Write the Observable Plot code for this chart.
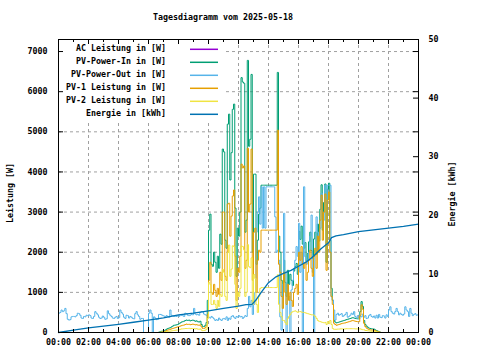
<!DOCTYPE html>
<html><head><meta charset="utf-8">
<script src="https://cdn.jsdelivr.net/npm/d3@7"></script>
<script src="https://cdn.jsdelivr.net/npm/@observablehq/plot@0.6"></script>
<style>body{margin:0;background:#fff}svg{display:block}</style>
</head><body><div id="chart"></div>
<script>
// ---------- data ----------
const chartTitle = "Tagesdiagramm vom 2025-05-18";
const yTitle = "Leistung [W]";
const y2Title = "Energie [kWh]";
const seriesNames = ["AC Leistung in [W]", "PV-Power-In in [W]", "PV-Power-Out in [W]", "PV-1 Leistung in [W]", "PV-2 Leistung in [W]", "Energie in [kWh]"];
const xTickHours = [0, 2, 4, 6, 8, 10, 12, 14, 16, 18, 20, 22, 24];
const yTicks = [0, 1000, 2000, 3000, 4000, 5000, 6000, 7000];
const y2Ticks = [0, 10, 20, 30, 40, 50];
const stepMinutes = 5;

// AC Leistung: no values visible in the picture
const acPower = [];

// PV-Power-Out [W], 00:00 .. 24:00, every 5 minutes (one row per hour)
const pvOut = [
  480,500,560,520,540,600,470,330,310,320,390,400,
  400,390,420,480,470,430,360,350,400,390,430,420,
  440,420,360,350,400,520,480,440,380,350,360,410,
  380,330,340,540,470,430,400,360,350,380,400,350,
  370,560,500,460,380,350,430,420,360,400,380,350,
  340,470,520,440,400,330,350,350,0,0,0,0,
  480,560,480,0,390,360,320,330,450,450,440,420,
  410,390,420,400,380,560,430,420,400,410,400,420,
  400,440,430,420,400,480,470,430,420,430,450,440,
  600,460,440,450,430,500,520,510,460,440,430,400,
  380,360,400,370,340,300,320,300,360,320,300,340,
  350,330,390,300,360,330,400,420,380,350,400,380,
  420,390,400,350,380,420,400,600,900,640,800,450,
  700,1000,2500,3000,3380,2700,3630,2600,3630,2600,3630,3630,
  3630,3630,3630,3630,3630,2880,2000,2050,1800,390,60,1200,
  2970,1500,0,1200,900,0,1060,1300,1600,1800,2140,1900,
  2720,1500,2000,0,3630,1890,1700,1800,2000,2400,2925,1500,
  0,2050,2880,2500,2300,2600,3470,3000,2800,3670,3200,3670,
  3670,3670,890,810,560,310,450,480,430,450,470,400,
  420,450,500,380,400,430,480,450,520,400,360,420,
  430,400,390,460,380,420,350,360,420,450,400,380,
  410,360,430,360,450,380,370,420,410,360,440,400,
  560,640,520,480,460,520,600,520,440,480,450,430,
  460,640,560,520,400,600,480,420,450,470,430,440,
  450
];

// PV series start at 06:30 and run to 21:30, every 5 minutes
const pvStartHour = 6.5;
const pvIn = [
  0,0,10,20,30,35,
  40,60,80,100,110,120,140,160,180,185,190,200,
  220,240,260,270,280,300,310,300,310,290,300,310,
  300,280,290,270,260,280,200,145,150,180,250,800,
  2550,2950,1700,1650,2000,1750,1500,1900,1600,2450,2200,4570,
  4500,2300,2100,5190,5440,3800,4480,5560,5690,3100,1400,2600,
  2400,3000,6350,6240,6210,2500,2800,6780,4640,4815,6430,2000,
  3945,3945,1700,2300,2950,3100,3670,3670,3670,3670,3670,3670,
  3670,3670,3670,3670,3670,3670,3670,6480,2400,2000,1300,900,
  1800,1250,900,1550,1200,1450,1300,1170,1530,1640,1720,1450,
  2520,2320,2650,2200,2100,2240,1780,1970,2260,2500,2040,1840,
  2330,2500,1950,2700,2280,3070,3680,2550,3240,3700,1750,3570,
  3720,2300,1100,800,300,260,240,250,260,270,280,290,
  300,310,320,330,340,350,360,370,360,350,345,340,
  340,520,770,650,300,200,160,130,110,100,90,90,
  85,65,50,35,20,5,0
];
const pv1 = [
  0,0,0,5,10,15,
  20,30,50,60,70,80,90,100,110,120,130,140,
  150,160,170,180,185,200,210,200,205,195,200,210,
  200,190,195,185,180,190,140,100,100,120,170,450,
  1300,1750,1000,950,1200,1050,900,1100,950,1500,1300,3000,
  3000,1400,1300,3200,3220,2400,2900,3400,3550,1900,800,1600,
  1500,1900,4195,4100,4150,1600,1800,4590,3000,3200,4570,1300,
  2500,2600,1000,1800,2050,2000,2550,2550,2550,2550,2550,2550,
  2550,2550,2550,2550,2550,2550,2550,5040,1700,1500,900,600,
  1500,1000,700,1200,800,1000,800,650,1000,1100,1200,950,
  2000,1800,2140,1700,1600,1750,1300,1500,1800,2050,1600,1400,
  1900,2100,1600,2400,2000,2800,3420,2300,3000,3450,1550,3300,
  3500,2000,900,700,230,200,180,190,200,210,220,230,
  235,240,250,260,270,280,290,300,290,280,275,270,
  270,430,690,580,230,150,110,90,75,65,60,60,
  55,45,35,25,15,5,0
];
const pv2 = [
  0,0,0,5,10,10,
  10,15,20,25,30,35,40,45,50,55,60,60,
  70,80,90,90,95,100,100,100,105,95,100,100,
  100,90,95,85,80,90,60,45,50,60,80,350,
  1250,1200,700,700,800,700,600,800,650,950,900,1570,
  1500,900,800,1990,2180,1400,1580,2160,2140,1200,600,1000,
  900,1100,2155,2140,2060,900,1000,2190,1640,1615,1860,700,
  1445,1345,700,500,900,1100,1120,1120,1120,1120,1120,1120,
  1120,1120,1120,1120,1120,1120,1120,1440,700,500,400,300,
  300,250,200,350,400,450,500,520,530,540,520,500,
  520,520,510,500,500,490,480,470,460,450,440,440,
  430,400,350,300,280,270,260,250,240,250,200,270,
  220,300,200,100,80,80,80,85,85,90,90,90,
  90,90,95,95,95,95,95,95,95,90,90,90,
  90,90,80,70,70,50,50,45,40,35,30,30,
  30,20,15,10,5,0,0
];

// Energie [kWh]
const energyHours = [0,1,2,3,4,5,6,7,8,9,10,11,12,12.5,12.9,13.15,13.5,14,14.5,15,15.5,16,16.5,17,17.5,18,18.2,18.5,19,20,21,22,23,24];
const energyKWh   = [0,0.4,0.8,1.1,1.4,1.75,2.1,2.5,3.0,3.3,3.7,4.1,4.5,4.75,4.8,5.5,6.8,8.5,9.5,10.1,10.6,11.3,12.0,13.0,14.3,15.3,16.2,16.5,16.7,17.2,17.5,17.8,18.1,18.5];

// ---------- styling ----------
const colors = ["#9400d3", "#009e73", "#56b4e9", "#e69f00", "#f0e442", "#0072b2"];
const W = 480, H = 360, mL = 58, mR = 62, mT = 39, mB = 28;
const yMax = 7300, y2Max = 50;
const k = yMax / y2Max; // energy -> left axis units
const frameW = W - mL - mR, frameH = H - mT - mB;
const font = "'DejaVu Sans Mono', 'Liberation Mono', monospace";
const fontSize = 8.3;

const step = stepMinutes / 60;
const outRows = pvOut.map((v, i) => ({t: i * step, v}));
const pvRows = arr => arr.map((v, i) => ({t: pvStartHour + i * step, v}));
const energyRows = energyHours.map((h, i) => ({t: h, v: energyKWh[i] * k}));
const acRows = acPower.map((v, i) => ({t: i * step, v}));

const fmtHour = h => String(h % 24).padStart(2, "0") + ":00";
const xMinor = d3.range(1, 24, 2);
const gridStyle = {stroke: "#a0a0a0", strokeOpacity: 1, strokeDasharray: "3,3", strokeWidth: 1};
const lineOpts = c => ({x: "t", y: "v", stroke: c, strokeWidth: 1, curve: "step-after"});

const plot = Plot.plot({
  width: W, height: H,
  marginLeft: mL, marginRight: mR, marginTop: mT, marginBottom: mB,
  style: {fontFamily: font, fontSize: fontSize + "px", fontWeight: "bold", color: "black", background: "white"},
  x: {domain: [0, 24]},
  y: {domain: [0, yMax]},
  marks: [
    Plot.gridX(xTickHours.slice(1, -1), gridStyle),
    Plot.gridY(yTicks.slice(1), gridStyle),
    Plot.line(acRows, lineOpts(colors[0])),
    Plot.line(pvRows(pvIn), lineOpts(colors[1])),
    Plot.line(outRows, lineOpts(colors[2])),
    Plot.line(pvRows(pv1), lineOpts(colors[3])),
    Plot.line(pvRows(pv2), lineOpts(colors[4])),
    Plot.line(energyRows, {x: "t", y: "v", stroke: colors[5], strokeWidth: 1.3}),
    // inward ticks
    Plot.ruleY(yTicks, {stroke: "black", insetRight: frameW - 5}),
    Plot.ruleY(yTicks, {stroke: "black", insetLeft: frameW - 5}),
    Plot.ruleY(y2Ticks.map(v => v * k), {stroke: "black", insetLeft: frameW - 5}),
    Plot.ruleX(xTickHours, {stroke: "black", insetTop: frameH - 5}),
    Plot.ruleX(xTickHours, {stroke: "black", insetBottom: frameH - 5}),
    Plot.ruleX(xMinor, {stroke: "black", insetTop: frameH - 3}),
    Plot.ruleX(xMinor, {stroke: "black", insetBottom: frameH - 3}),
    Plot.frame({stroke: "black"}),
    Plot.axisX(xTickHours, {anchor: "bottom", tickSize: 0, tickPadding: 7, tickFormat: fmtHour, label: null}),
    Plot.axisY(yTicks, {anchor: "left", tickSize: 0, tickPadding: 11, tickFormat: d => String(d), label: null}),
    Plot.axisY(y2Ticks.map(v => v * k), {anchor: "right", tickSize: 0, tickPadding: 10, tickFormat: d => String(Math.round(d / k)), label: null})
  ]
});
document.getElementById("chart").appendChild(plot);

const svg = d3.select(plot);
// legend background (opaque key box) placed above grid, below data
const firstLine = plot.querySelector('g[aria-label="line"]');
const bg = document.createElementNS("http://www.w3.org/2000/svg", "rect");
bg.setAttribute("x", mL + 0.5); bg.setAttribute("y", mT + 0.5);
bg.setAttribute("width", 166); bg.setAttribute("height", 83);
bg.setAttribute("fill", "white");
if (firstLine) firstLine.parentNode.insertBefore(bg, firstLine); else plot.appendChild(bg);

const txt = (x, y, s, anchor, rot) => {
  const t = svg.append("text").attr("x", x).attr("y", y).attr("dy", "0.35em")
    .attr("text-anchor", anchor).attr("fill", "black").attr("font-weight", "bold")
    .attr("font-family", font).attr("font-size", fontSize).text(s);
  if (rot) t.attr("transform", `rotate(-90 ${x} ${y})`);
  return t;
};
txt(223, 17, chartTitle, "middle");
txt(10, 193, yTitle, "middle", true);
txt(452, 194, y2Title, "middle", true);

const key = svg.append("g");
seriesNames.forEach((name, i) => {
  const y = 49.3 + i * 13;
  txt(166, y - 1.5, name, "end");
  key.append("line").attr("x1", 190).attr("x2", 218).attr("y1", y).attr("y2", y)
    .attr("stroke", colors[i]).attr("stroke-width", 1.5);
});
</script>
</body></html>
